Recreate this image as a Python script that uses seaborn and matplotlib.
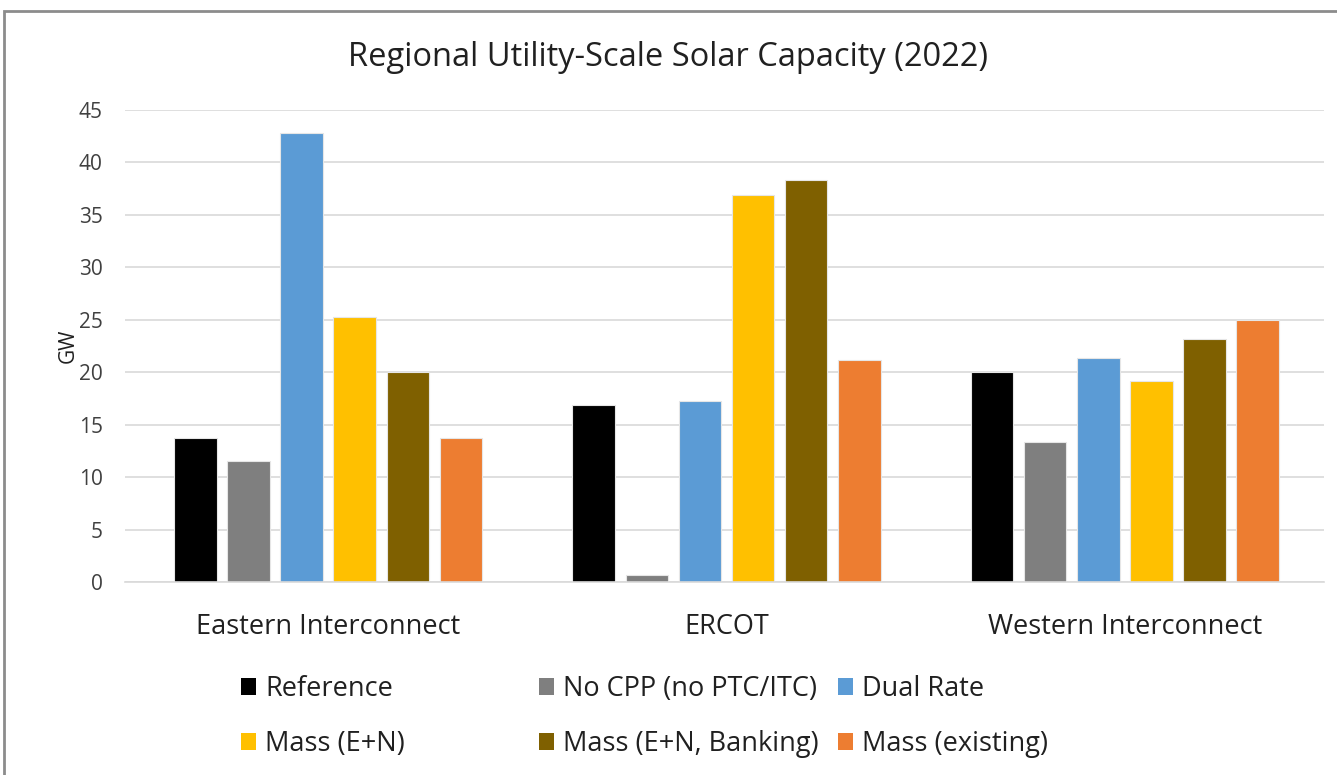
import matplotlib
matplotlib.use("Agg")
import matplotlib.pyplot as plt
import matplotlib.patches as mpatches
import seaborn as sns
import pandas as pd

regions = ["Eastern Interconnect", "ERCOT", "Western Interconnect"]
scenarios = ["Reference", "No CPP (no PTC/ITC)", "Dual Rate",
             "Mass (E+N)", "Mass (E+N, Banking)", "Mass (existing)"]
reference = [13.7, 16.9, 20.05]
no_cpp = [11.5, 0.65, 13.3]
dual_rate = [42.8, 17.25, 21.4]
mass_en = [25.3, 36.9, 19.2]
mass_en_banking = [20.05, 38.3, 23.2]
mass_existing = [13.7, 21.2, 25.0]
colors = ["#000000", "#7f7f7f", "#5b9bd5", "#ffc000", "#7f6000", "#ed7d31"]
yticks = [0, 5, 10, 15, 20, 25, 30, 35, 40, 45]

series = [reference, no_cpp, dual_rate, mass_en, mass_en_banking, mass_existing]
rows = []
for s, vals in zip(scenarios, series):
    for r, v in zip(regions, vals):
        rows.append({"Region": r, "Scenario": s, "GW": v})
df = pd.DataFrame(rows)

sns.set_theme(style="white")
plt.rcParams["font.family"] = ["Open Sans", "DejaVu Sans"]

fig = plt.figure(figsize=(13.37, 7.75), dpi=100)
ax = fig.add_axes([125 / 1337, 1 - 582 / 775, (1324 - 125) / 1337, (582 - 110) / 775])

sns.barplot(data=df, x="Region", y="GW", hue="Scenario", order=regions,
            hue_order=scenarios, palette=colors, saturation=1, width=0.8, gap=0.2,
            edgecolor="#e6e6e6", linewidth=0.8, ax=ax, legend=False)

ax.set_ylim(0, 45)
ax.set_xlim(-0.51, 2.5)
ax.set_yticks(yticks)
ax.set_yticklabels([str(t) for t in yticks], fontsize=15, color="#404040")
ax.tick_params(axis="x", labelsize=19.5, colors="#202020", pad=22, length=0)
ax.tick_params(axis="y", length=0, pad=16)
ax.yaxis.grid(True, color="#d9d9d9", linewidth=1.2)
ax.set_axisbelow(True)
for sp in ["top", "right", "left"]:
    ax.spines[sp].set_visible(False)
ax.spines["bottom"].set_color("#d9d9d9")
ax.spines["bottom"].set_linewidth(1.2)
ax.set_xlabel("")
ax.set_ylabel("GW", fontsize=15, color="#202020", labelpad=0)

fig.text(0.5, 1 - 57 / 775, "Regional Utility-Scale Solar Capacity (2022)",
         ha="center", va="center", fontsize=23.5, color="#202020")

# Legend: three columns of equal width, two rows
col_x = [241, 539, 838]
for c in range(3):
    idx = [c, c + 3]
    handles = [mpatches.Patch(facecolor=colors[i], edgecolor="none") for i in idx]
    labels = [scenarios[i] for i in idx]
    leg = fig.legend(handles, labels, loc="upper left",
                     bbox_to_anchor=(col_x[c] / 1337, 1 - 675 / 775),
                     frameon=False, fontsize=19.5, handlelength=0.55,
                     handleheight=0.55, handletextpad=0.35, labelspacing=1.0,
                     borderaxespad=0, borderpad=0)
    for t in leg.get_texts():
        t.set_color("#202020")

# Figure border
fig.patches.append(mpatches.Rectangle((4 / 1337, -0.05), 1.2, 1 - 11 / 775 + 0.05,
                                      transform=fig.transFigure, fill=False,
                                      edgecolor="#8c8c8c", linewidth=2))

fig.savefig("out.png", dpi=100)
